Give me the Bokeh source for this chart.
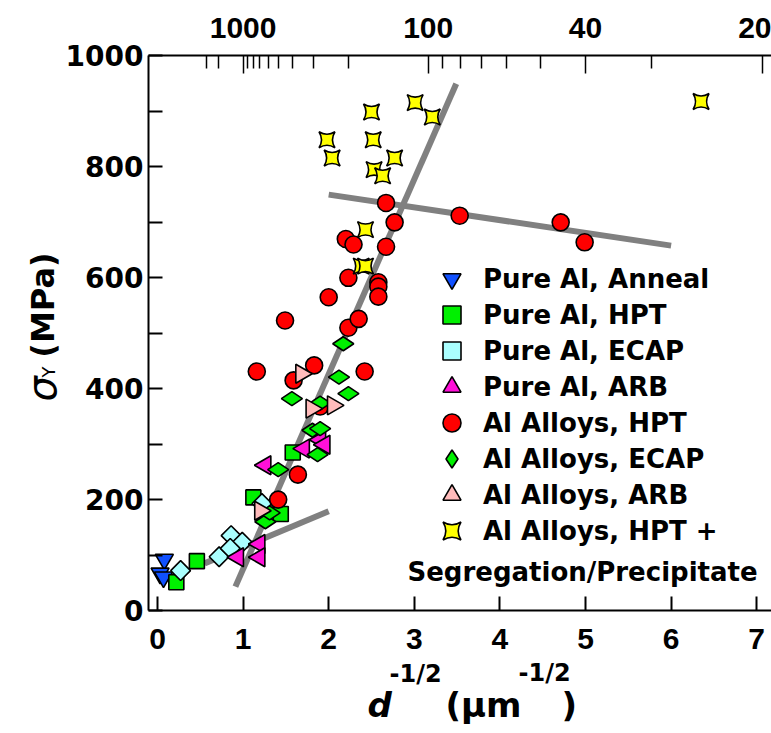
import math
from bokeh.plotting import figure
from bokeh.models import LinearAxis, FixedTicker, Range1d, Legend, LegendItem, Label
from bokeh.embed import file_html
from bokeh.resources import INLINE

# ---------------- data ----------------
anneal_x = [0.08, 0.03, 0.07]
anneal_y = [92, 67, 60]

pure_hpt_x = [0.22, 0.46, 1.12, 1.44, 1.58]
pure_hpt_y = [51, 89, 204, 174, 285]

pure_ecap_x = [0.27, 0.72, 0.86, 0.99, 0.85, 1.22]
pure_ecap_y = [72, 97, 135, 123, 112, 193]

pure_arb_x = [0.94, 1.19, 1.19, 1.26, 1.71, 1.90, 1.95]
pure_arb_y = [96, 120, 96, 262, 292, 308, 299]

alloy_hpt_x = [1.16, 1.41, 1.49, 1.59, 1.64, 1.83, 1.90, 2.00, 2.20, 2.23, 2.23, 2.29,
               2.35, 2.42, 2.58, 2.58, 2.58, 2.67, 2.67, 2.77, 3.53, 4.71, 4.99]
alloy_hpt_y = [431, 200, 523, 415, 245, 442, 368, 565, 670, 600, 510, 660,
               526, 431, 592, 584, 566, 735, 656, 700, 712, 700, 664]

alloy_ecap_x = [1.26, 1.31, 1.41, 1.57, 1.81, 1.87, 1.90, 1.90, 2.12, 2.17, 2.23]
alloy_ecap_y = [160, 176, 254, 382, 325, 281, 328, 374, 421, 481, 391]

alloy_arb_x = [1.20, 1.68, 1.80, 2.05]
alloy_arb_y = [180, 427, 364, 370]

seg_x = [3.01, 3.21, 2.50, 1.98, 2.52, 2.04, 2.77, 2.53, 2.63, 2.43, 2.38, 2.43, 6.35]
seg_y = [916, 890, 899, 849, 849, 816, 816, 795, 784, 687, 621, 621, 918]

fit_steep_x = [0.91, 3.49]
fit_steep_y = [43, 950]
fit_low_x = [0.55, 2.00]
fit_low_y = [85, 179]
fit_top_x = [2.00, 6.00]
fit_top_y = [750, 658]

y_ticks = [0, 200, 400, 600, 800, 1000]
y_minor = [100, 300, 500, 700, 900]
x_ticks = [0, 1, 2, 3, 4, 5, 6, 7]
top_major_nm = [1000, 100, 40, 20]
top_minor_nm = [3000, 2000, 900, 800, 700, 600, 500, 400, 300, 200,
                90, 80, 70, 60, 50, 30]

labels = ["Pure Al, Anneal", "Pure Al, HPT", "Pure Al, ECAP", "Pure Al, ARB",
          "Al Alloys, HPT", "Al Alloys, ECAP", "Al Alloys, ARB", "Al Alloys, HPT +"]
label_line2 = "Segregation/Precipitate"

# axes extents (data units)
X_MIN, X_MAX = -0.105, 7.1729
Y_MIN, Y_MAX = 0, 1000

# ---------------- figure ----------------
# The frame fills the whole canvas; axes are drawn at fixed locations so that
# titles placed outside the axes are not clipped.
p = figure(width=771, height=733,
           x_range=Range1d(-1.8341, 7.1729), y_range=Range1d(-221.82, 1100.09),
           x_axis_location=None, y_axis_location=None,
           output_backend="svg", toolbar_location=None, min_border=0)
p.outline_line_color = None
p.background_fill_color = "white"
for g in p.grid:
    g.visible = False

BOLD_FONT = "DejaVu Sans"

def style_axis(ax, tin, minor_in, lw=2):
    ax.major_tick_in = tin
    ax.major_tick_out = 0
    ax.minor_tick_in = minor_in
    ax.minor_tick_out = 0
    ax.axis_line_width = 2
    ax.axis_line_color = "black"
    ax.major_tick_line_width = lw
    ax.minor_tick_line_width = lw
    ax.major_label_text_color = "black"
    ax.major_label_text_font_style = "bold"

# bottom axis
xa = LinearAxis(ticker=FixedTicker(ticks=x_ticks, minor_ticks=[]),
                fixed_location=Y_MIN, bounds=(X_MIN, X_MAX))
style_axis(xa, 14, 0)
xa.major_label_text_font = "Liberation Sans"
xa.major_label_text_font_size = "30px"
xa.major_label_standoff = 18
p.add_layout(xa, "below")

# left axis
ya = LinearAxis(ticker=FixedTicker(ticks=y_ticks, minor_ticks=y_minor),
                fixed_location=X_MIN, bounds=(Y_MIN, Y_MAX))
style_axis(ya, 14, 14)
ya.major_label_text_font = BOLD_FONT
ya.major_label_text_font_size = "28px"
ya.major_label_standoff = 5
p.add_layout(ya, "left")

# top axis (grain size, nm)
top_pos = [math.sqrt(1000.0 / d) for d in top_major_nm]
top_minor_pos = [math.sqrt(1000.0 / d) for d in top_minor_nm]
ta = LinearAxis(ticker=FixedTicker(ticks=top_pos, minor_ticks=top_minor_pos),
                major_label_overrides={pos: str(d) for pos, d in zip(top_pos, top_major_nm)},
                fixed_location=Y_MAX, bounds=(X_MIN, X_MAX))
style_axis(ta, 18, 13, lw=1.5)
ta.major_label_text_font = "Liberation Sans"
ta.major_label_text_font_size = "30px"
ta.major_label_standoff = 18
p.add_layout(ta, "above")

# fit lines
GRAY = "#808080"
for fx, fy in [(fit_steep_x, fit_steep_y), (fit_low_x, fit_low_y), (fit_top_x, fit_top_y)]:
    p.line(fx, fy, line_color=GRAY, line_width=6)

LW = 1.6
r1 = p.scatter(anneal_x, anneal_y, marker="inverted_triangle", size=18,
               fill_color="#1050ff", line_color="black", line_width=LW)
r2 = p.scatter(pure_hpt_x, pure_hpt_y, marker="square", size=15,
               fill_color="#00f000", line_color="black", line_width=LW)
r3 = p.scatter(pure_ecap_x, pure_ecap_y, marker="square", size=14, angle=math.pi / 4,
               fill_color="#aaffff", line_color="black", line_width=LW)
r4 = p.scatter(pure_arb_x, pure_arb_y, marker="triangle", size=19, angle=math.pi / 2,
               fill_color="#ff10d8", line_color="black", line_width=LW)
r5 = p.scatter(alloy_hpt_x, alloy_hpt_y, marker="circle", size=17,
               fill_color="#ff0000", line_color="black", line_width=LW)
r6 = p.scatter(alloy_ecap_x, alloy_ecap_y, marker="diamond", size=21, angle=math.pi / 2,
               fill_color="#00f000", line_color="black", line_width=LW)
r7 = p.scatter(alloy_arb_x, alloy_arb_y, marker="triangle", size=19, angle=-math.pi / 2,
               fill_color="#ffbbbb", line_color="black", line_width=LW)
r8 = p.scatter(seg_x, seg_y, marker="square_pin", size=16,
               fill_color="#ffff00", line_color="black", line_width=LW)
renderers = [r1, r2, r3, r4, r5, r6, r7, r8]

# Two interleaved legends (odd / even rows) give 36 px rows with 18 px swatches.
def make_legend(idx, loc):
    return Legend(items=[LegendItem(label=labels[i], renderers=[renderers[i]]) for i in idx],
                  location=loc, padding=0, spacing=27, margin=0,
                  glyph_width=45, glyph_height=45, label_height=36, label_standoff=9,
                  label_text_font=BOLD_FONT, label_text_font_style="bold",
                  label_text_font_size="26px", label_text_color="black",
                  background_fill_alpha=0, border_line_alpha=0)

p.add_layout(make_legend([0, 2, 4, 6], (429, 216)))
p.add_layout(make_legend([1, 3, 5, 7], (429, 180)))

p.add_layout(Label(x=2.92, y=70, text=label_line2, text_font=BOLD_FONT,
                   text_font_style="bold", text_font_size="26px", text_color="black",
                   text_align="left", text_baseline="alphabetic"))

# y-axis title: sigma_Y (MPa)
def ylabel(x, y, t, size, style):
    p.add_layout(Label(x=x, y=y, text=t, text_font=BOLD_FONT, text_font_style=style,
                       text_font_size=size, angle=math.pi / 2, text_color="black",
                       text_align="left", text_baseline="alphabetic"))

ylabel(-1.355, 377, "σ", "40px", "italic")
ylabel(-1.273, 420, "Y", "18px", "normal")
ylabel(-1.335, 456, "(MPa)", "32px", "bold")

# x-axis title: d^-1/2 (um^-1/2)
def xlabel(x, y, t, size, style="bold"):
    p.add_layout(Label(x=x, y=y, text=t, text_font=BOLD_FONT, text_font_style=style,
                       text_font_size=size, text_color="black",
                       text_align="left", text_baseline="alphabetic"))

xlabel(2.453, -171, "d", "34px", "bold italic")
xlabel(2.71, -115, "-1/2", "24px")
xlabel(3.364, -171, "(μm", "34px")
xlabel(4.217, -112, "-1/2", "24px")
xlabel(4.72, -171, ")", "34px")

open("out.html", "w").write(file_html(p, INLINE))
